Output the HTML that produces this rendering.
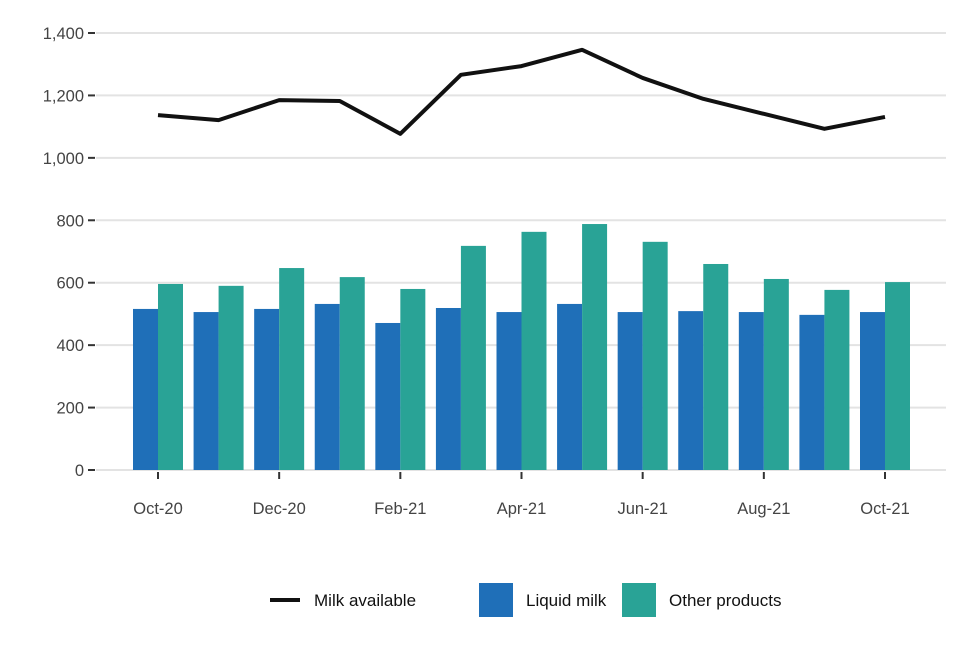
<!DOCTYPE html>
<html><head><meta charset="utf-8"><style>
body{margin:0;background:#fff;font-family:"Liberation Sans",sans-serif;}
svg text{font-family:"Liberation Sans",sans-serif;}
</style></head><body>
<svg id="chart" width="960" height="640" xmlns="http://www.w3.org/2000/svg">
<g id="grid"></g>
<g id="yaxis"></g>
<g id="bars"></g>
<g id="xaxis"></g>
<path id="line" fill="none" stroke="#111" stroke-width="4" stroke-linejoin="round"/>
<g>
<g><line x1="270" y1="600" x2="300" y2="600" stroke="#111" stroke-width="4"/><text x="314" y="606" font-size="17" fill="#111">Milk available</text></g>
<g><rect x="479" y="583" width="34" height="34" fill="#1f6fb8"/><text x="526" y="606" font-size="17" fill="#111">Liquid milk</text></g>
<g><rect x="622" y="583" width="34" height="34" fill="#29a396"/><text x="669" y="606" font-size="17" fill="#111">Other products</text></g>
</g>
</svg>
<script>
const months=["Oct-20","Nov-20","Dec-20","Jan-21","Feb-21","Mar-21","Apr-21","May-21","Jun-21","Jul-21","Aug-21","Sep-21","Oct-21"];
const milkAvailable=[1137,1121,1185,1182,1077,1266,1294,1346,1256,1189,1141,1093,1131];
const liquidMilk=[516,506,516,532,471,519,506,532,506,509,506,497,506];
const otherProducts=[596,590,647,618,580,718,763,788,731,660,612,577,602];
const yTicks=[0,200,400,600,800,1000,1200,1400];
const yTickLabels=["0","200","400","600","800","1,000","1,200","1,400"];
const xLabelIdx=[0,2,4,6,8,10,12];
const NS="http://www.w3.org/2000/svg";
const y=v=>470-v*(437/1400);
const x=i=>158+i*(727/12);
function mk(t,a,p){const e=document.createElementNS(NS,t);for(const k in a)e.setAttribute(k,a[k]);p.appendChild(e);return e;}
const grid=document.getElementById('grid'),ya=document.getElementById('yaxis'),bars=document.getElementById('bars'),xa=document.getElementById('xaxis');
yTicks.forEach((v,i)=>{
 const g=mk('line',{x1:96,x2:946,y1:y(v),y2:y(v),stroke:'#e3e3e3','stroke-width':2},grid);
 
 
 mk('line',{x1:88,x2:95,y1:y(v),y2:y(v),stroke:'#333','stroke-width':2},ya);
 const t=mk('text',{x:84,y:y(v)+6,'text-anchor':'end','font-size':16.5,fill:'#444'},ya);
 t.textContent=yTickLabels[i];
 
 
});
months.forEach((m,i)=>{
 const b1=mk('rect',{x:x(i)-25,y:y(liquidMilk[i]),width:25,height:470-y(liquidMilk[i]),fill:'#1f6fb8'},bars);
 
 
 const b2=mk('rect',{x:x(i),y:y(otherProducts[i]),width:25,height:470-y(otherProducts[i]),fill:'#29a396'},bars);
 
 
});
xLabelIdx.forEach(i=>{
 mk('line',{x1:x(i),x2:x(i),y1:472,y2:479,stroke:'#333','stroke-width':2},xa);
 const t=mk('text',{x:x(i),y:514,'text-anchor':'middle','font-size':16.5,fill:'#444'},xa);
 t.textContent=months[i];
 
 
});
document.getElementById('line').setAttribute('d',milkAvailable.map((v,i)=>(i?'L':'M')+x(i)+','+y(v)).join(''));
</script>
</body></html>
